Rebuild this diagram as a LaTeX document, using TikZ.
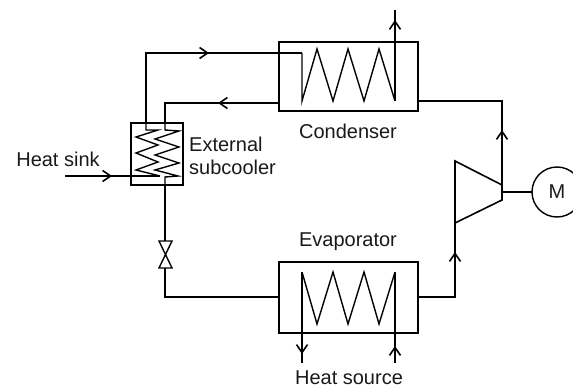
\documentclass[tikz,border=0pt]{standalone}
\usepackage{fontspec}
\setmainfont{Liberation Sans}
\usetikzlibrary{arrows.meta, positioning, calc}

\begin{document}
\begin{tikzpicture}[
  x=1pt, y=-1pt,
  every node/.style={font=\fontsize{20}{22}\selectfont, inner sep=0pt, text=black!90},
  unit/.style={rectangle, draw, line width=1.6pt, outer sep=0pt},
  pipe/.style={line width=1.6pt, line join=miter},
  arr/.style={pipe, -{Straight Barb[length=8pt, width=11pt, line width=1.6pt]}},
  coil/.style={line width=1.4pt, line join=miter},
]
\useasboundingbox (0,0) rectangle (573,388);

% Heat exchangers
\node[unit, minimum width=139pt, minimum height=69pt] (cond) at (348.5,76.5) {};
\node[unit, minimum width=139pt, minimum height=71pt] (evap) at (348.5,297.5) {};
\node[unit, minimum width=52pt, minimum height=62pt] (sub) at (157,154) {};
\node[circle, draw, line width=1.4pt, minimum size=50pt, outer sep=0pt] (motor) at (557,192) {M};

% Labels
\node (condlbl) at (348,131) {Condenser};
\node (evaplbl) at (348,242) {Evaporator};
\node (sourcelbl) at (349,378) {Heat source};
\node (sinklbl) at (58,159) {Heat sink};
\node[anchor=west, align=left, font=\fontsize{20}{23}\selectfont] (sublbl) at (189,156) {External\\subcooler};

% Points on the pipes
\coordinate (c1) at (146,53);
\coordinate (c2) at (302,53);
\coordinate (c3) at (165,103);
\coordinate (c4) at (395,10);
\coordinate (v) at (165,254);
\coordinate (e1) at (165,297);
\coordinate (e2) at (455,297);
\coordinate (k1) at (502,185);
\coordinate (k2) at (502,200);
\coordinate (k3) at (455,223);
\coordinate (k4) at (455,161);
\coordinate (k5) at (502,101);
\coordinate (sink) at (65,176);

% Condenser coil
\draw[coil] (c2) -- (302,101) -- (317,49) -- (333,101) -- (348,49) -- (364,101) -- (379,49) -- (395,101);
\draw[arr] (395,101) -- (395,20);
\draw[pipe] (395,30) -- (c4);

% Evaporator coil
\draw[coil] (302,272) -- (317,324) -- (333,272) -- (348,324) -- (364,272) -- (379,324) -- (395,272);
\draw[arr] (302,272) -- (302,354);
\draw[pipe] (302,345) -- (302,363);
\draw[arr] (395,363) -- (395,346);
\draw[pipe] (395,355) -- (395,272);

% Subcooler coils
\draw[coil] (146,123) -- (146,130) -- (158,130) -- (136,137) -- (158,145) -- (136,153) -- (158,162) -- (136,170) -- (160,176);
\draw[coil] (165,123) -- (165,130) -- (179,131) -- (155,139) -- (179,147) -- (155,155) -- (179,163) -- (155,170) -- (178,176) -- (165,177) -- (165,185);

% Pipes
\draw[arr] (sub.north -| c1) -- (c1) -- (209,53);
\draw[pipe] (200,53) -- (c2);
\draw[arr] (cond.west |- c3) -- (218,103);
\draw[pipe] (227,103) -- (c3) -- (sub.north -| c3);
\draw[pipe] (sub.south -| v) -- (165,241);
\draw[pipe] (165,268) -- (e1) -- (evap.west |- e1);
\draw[arr] (sink) -- (112,176);
\draw[pipe] (103,176) -- (160,176);
\draw[arr] (evap.east |- e2) -- (e2) -- (455,252);
\draw[pipe] (455,261) -- (k3);
\draw[arr] (k1) -- (502,130);
\draw[pipe] (502,139) -- (k5) -- (cond.east |- k5);

% Expansion valve
\draw[coil] (159,241) -- (172,241) -- (159,268) -- (172,268) -- cycle;

% Compressor
\draw[pipe] (k4) -- (k1) -- (k2) -- (k3) -- cycle;
\draw[pipe] (502,192) -- (motor.west);

\end{tikzpicture}
\end{document}
